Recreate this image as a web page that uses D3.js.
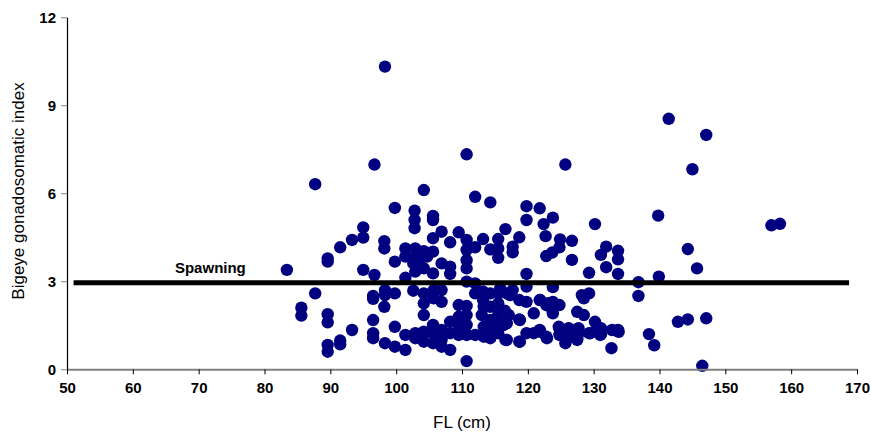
<!DOCTYPE html>
<html><head><meta charset="utf-8">
<script src="https://cdn.jsdelivr.net/npm/d3@7"></script>
<style>body{margin:0;background:#fff}svg{display:block}</style>
</head><body><svg id="c" width="871" height="432"></svg>
<script>
const xTicks = [50,60,70,80,90,100,110,120,130,140,150,160,170];
const yTicks = [0,3,6,9,12];
const xTitle = "FL (cm)";
const yTitle = "Bigeye gonadosomatic index";
const spawnLabel = "Spawning";
const spawnX = [51, 168.8];
const spawnY = 2.95;
const fl = [83.4,85.6,85.6,87.7,87.7,89.6,89.6,89.6,89.6,89.6,89.6,91.5,91.5,91.5,93.3,93.3,95.0,95.0,95.0,
96.7,96.7,96.5,96.5,96.5,96.5,96.5,98.3,98.2,98.2,98.3,98.3,98.2,98.3,99.8,99.8,99.8,99.8,99.8,
101.4,101.4,101.4,101.4,101.4,102.8,102.8,102.8,102.9,102.9,102.6,103.6,102.9,102.6,102.9,102.9,104.2,104.7,104.2,104.2,104.2,104.2,104.2,104.2,104.2,
105.6,105.6,105.6,105.6,105.6,105.7,105.7,105.6,105.6,105.6,106.9,106.9,106.9,106.9,106.9,106.9,106.9,108.2,108.2,108.2,108.2,108.2,108.2,109.5,109.5,109.7,109.5,109.5,109.5,
110.7,110.7,110.7,110.7,110.7,110.7,110.7,110.7,110.7,110.7,110.7,112.0,112.0,112.0,112.0,112.0,113.2,113.2,113.2,113.3,113.0,113.3,113.3,114.3,114.3,114.3,114.3,114.3,114.3,114.3,
115.5,115.5,115.5,115.5,115.5,115.5,115.5,115.5,116.6,116.8,117.1,116.8,116.8,117.7,117.7,117.7,118.7,118.7,118.7,118.7,119.8,119.8,119.8,119.8,119.8,119.8,
120.9,120.9,121.8,121.8,121.8,122.4,122.7,122.8,122.8,122.8,123.8,123.7,123.8,123.8,123.8,124.9,124.8,124.8,124.8,124.8,125.7,125.7,
126.7,126.7,126.5,126.5,127.7,127.5,128.2,128.5,128.5,129.3,129.3,129.3,127.5,130.2,130.2,131.1,131.1,131.9,131.9,131.1,132.8,132.7,133.7,133.7,133.7,133.7,
136.8,136.8,138.4,139.2,139.8,139.9,141.4,142.8,144.3,144.3,145.0,145.7,146.5,147.1,147.1,157.0,158.3,
121.9,122.9,124.9,126.4,129.5,131.0,133.8,116.6,118.8,127.5,124.7,126.2,127.7,130.5,123.7,123.1,116.3,115.8,117.3,116.5,118.8,121.9];
const gsi = [3.39,2.10,1.83,6.31,2.59,3.78,3.67,1.88,1.60,0.83,0.60,4.16,0.98,0.85,4.41,1.34,4.84,4.49,3.39,
6.98,3.22,2.50,2.40,1.68,1.23,1.06,10.32,4.37,4.12,2.70,2.53,2.13,0.89,5.50,3.67,2.59,1.45,0.77,
4.12,3.84,3.12,1.17,0.66,5.41,5.09,4.81,4.12,3.84,3.61,3.73,3.33,2.68,1.23,1.06,6.11,3.84,4.03,3.44,2.59,2.25,1.85,1.28,0.94,
5.23,5.09,4.47,4.01,3.27,2.70,2.42,1.51,1.23,0.89,4.69,3.61,2.70,2.30,1.34,1.00,0.77,4.33,3.50,3.25,1.62,1.23,0.66,4.67,2.19,1.68,1.17,1.79,1.51,
7.33,4.41,4.07,3.72,3.44,2.99,2.16,1.85,1.51,1.17,0.28,5.88,4.16,2.93,2.59,1.17,4.44,2.65,2.36,2.13,1.85,1.45,1.11,5.69,4.09,2.59,2.13,1.68,1.34,1.06,
4.44,4.12,3.80,2.59,2.25,1.85,1.51,1.23,4.78,2.59,1.85,1.57,1.00,4.18,3.99,2.70,4.50,2.36,1.70,0.94,5.56,5.09,3.25,2.82,2.30,1.23,
1.91,1.23,5.49,2.36,1.34,4.95,4.54,3.86,2.19,1.11,5.17,3.98,2.80,2.30,1.91,4.43,4.16,2.19,1.40,1.17,6.98,0.89,
4.38,3.73,1.34,1.11,1.23,1.96,2.53,2.42,1.85,2.59,3.29,1.23,1.06,4.95,1.62,1.40,1.19,4.18,3.48,3.90,1.34,0.72,4.04,3.75,3.25,1.34,
2.97,2.50,1.20,0.82,5.24,3.16,8.54,1.62,1.70,4.10,6.82,3.44,0.12,7.99,1.74,4.91,4.96,
1.28,1.06,1.23,1.11,1.23,1.17,1.28,1.00,0.94,1.00,1.45,1.40,1.40,1.40,2.03,2.25,1.51,2.76,2.53,2.00,1.68,2.36];

const svg = d3.select("#c");
const x = d3.scaleLinear().domain([50,170]).range([67,857]);
const y = d3.scaleLinear().domain([0,12]).range([369.3,17.3]);
const font = "'Liberation Sans', Arial, sans-serif";

// dots
svg.append("g").selectAll("circle").data(d3.range(fl.length)).join("circle")
  .attr("cx", i => x(fl[i])).attr("cy", i => y(gsi[i])).attr("r", 6.2)
  .attr("fill", "#000080");

// spawning line
svg.append("line").attr("x1", x(spawnX[0])).attr("x2", x(spawnX[1]))
  .attr("y1", y(spawnY)).attr("y2", y(spawnY))
  .attr("stroke", "#000").attr("stroke-width", 5);
svg.append("text").attr("x", x(66.4)).attr("y", y(spawnY) - 10)
  .attr("font-family", font).attr("font-weight", "bold").attr("font-size", 15)
  .attr("fill", "#000").text(spawnLabel);

// axes
const xAxis = svg.append("g").attr("transform", `translate(0,${y(0)})`)
  .call(d3.axisBottom(x).tickValues(xTicks).tickSize(5).tickSizeOuter(0).tickPadding(8));
xAxis.select(".domain").attr("stroke", "#808080").attr("stroke-width", 2);
xAxis.selectAll(".tick line").attr("stroke", "#000");
xAxis.selectAll("text").attr("font-family", font).attr("font-weight", "bold").attr("font-size", 15).attr("fill", "#000");

const yAxis = svg.append("g").attr("transform", `translate(${x(50)},0)`)
  .call(d3.axisLeft(y).tickValues(yTicks).tickSize(6).tickSizeOuter(0).tickPadding(5));
yAxis.select(".domain").attr("stroke", "#000").attr("stroke-width", 1.2);
yAxis.selectAll(".tick line").attr("stroke", "#808080");
yAxis.selectAll("text").attr("font-family", font).attr("font-weight", "bold").attr("font-size", 15).attr("fill", "#000");

svg.append("text").attr("x", 462).attr("y", 428).attr("text-anchor", "middle")
  .attr("font-family", font).attr("font-size", 17).attr("fill", "#000").text(xTitle);
svg.append("text").attr("transform", "translate(24,191) rotate(-90)").attr("text-anchor", "middle")
  .attr("font-family", font).attr("font-size", 17).attr("fill", "#000").text(yTitle);
</script></body></html>
